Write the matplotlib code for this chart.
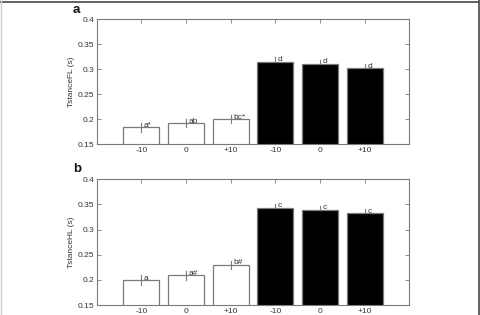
import matplotlib
matplotlib.use("Agg")
import matplotlib.pyplot as plt
from matplotlib.lines import Line2D

plt.rcParams['font.family'] = ['Liberation Sans', 'DejaVu Sans']

tick_labels = ["-10", "0", "+10", "-10", "0", "+10"]
fl_values = [0.184, 0.192, 0.200, 0.315, 0.311, 0.302]
fl_errors = [0.009, 0.008, 0.008, 0.010, 0.008, 0.008]
fl_letters = ["a*", "ab", "bc*", "d", "d", "d"]
hl_values = [0.199, 0.209, 0.230, 0.343, 0.339, 0.332]
hl_errors = [0.010, 0.009, 0.008, 0.008, 0.008, 0.008]
hl_letters = ["a", "a#", "b#", "c", "c", "c"]
bar_colors = ["white", "white", "white", "black", "black", "black"]

W, H = 481, 315
fig = plt.figure(figsize=(W / 100, H / 100), dpi=100)

gray = "#7a7a7a"
txt = "#333333"
fs = 6

def panel(rect, values, errors, letters, ylabel, tag, tag_y):
    ax = fig.add_axes(rect)
    x = list(range(1, len(values) + 1))
    ax.bar(x, values, width=0.8, color=bar_colors, edgecolor=gray, linewidth=0.9, zorder=2)
    for xi, v, e, lab in zip(x, values, errors, letters):
        ax.plot([xi, xi], [v - e, v + e], color=gray, lw=0.8, zorder=1 if v > 0.25 else 3)
        ax.text(xi + 0.06, v + 0.004, lab, fontsize=fs, color=txt, ha="left", va="center", zorder=4)
    ax.set_xlim(0, 7)
    ax.set_ylim(0.15, 0.4)
    ax.set_xticks(x)
    ax.set_xticklabels(tick_labels)
    ax.set_yticks([0.15, 0.2, 0.25, 0.3, 0.35, 0.4])
    ax.set_yticklabels(["0.15", "0.2", "0.25", "0.3", "0.35", "0.4"])
    ax.tick_params(direction="in", top=True, right=True, length=3, width=0.6,
                   labelsize=fs, colors=gray, labelcolor=txt, pad=2)
    for s in ax.spines.values():
        s.set_color(gray)
        s.set_linewidth(0.8)
    ax.set_ylabel(ylabel, fontsize=fs, color=txt, labelpad=2)
    fig.text(73 / W, 1 - tag_y / H, tag, fontsize=9.5, fontweight="bold", color="#111111",
             ha="left", va="center")
    return ax

panel([96.7 / W, 1 - 144.3 / H, 312.6 / W, 125.3 / H], fl_values, fl_errors, fl_letters,
      "TstanceFL (s)", "a", 10)
panel([96.7 / W, 1 - 305 / H, 312.6 / W, 125.7 / H], hl_values, hl_errors, hl_letters,
      "TstanceHL (s)", "b", 169)

# figure border
fig.add_artist(Line2D([0, 1], [1 - 1.5 / H, 1 - 1.5 / H], transform=fig.transFigure, color="#555555", lw=1.3))
fig.add_artist(Line2D([1 - 1.5 / W, 1 - 1.5 / W], [0, 1], transform=fig.transFigure, color="#555555", lw=1.3))
fig.add_artist(Line2D([0.8 / W, 0.8 / W], [0, 1], transform=fig.transFigure, color="#cccccc", lw=1.0))

fig.savefig("out.png", dpi=100)
